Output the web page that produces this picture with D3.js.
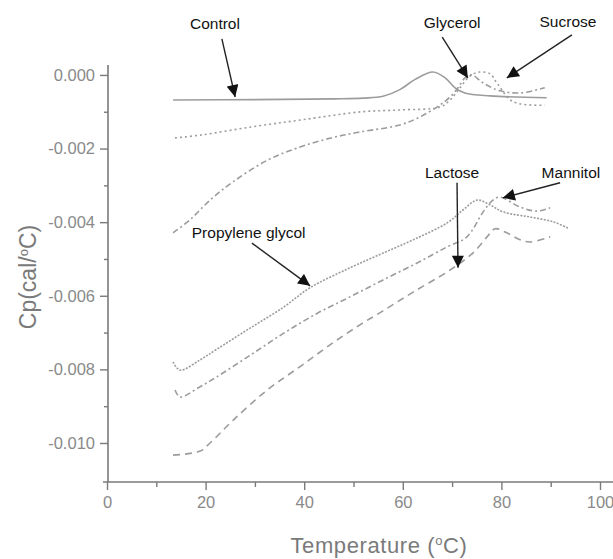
<!DOCTYPE html>
<html>
<head>
<meta charset="utf-8">
<script src="https://cdnjs.cloudflare.com/ajax/libs/d3/7.8.5/d3.min.js"></script>
<style>
  html, body { margin: 0; padding: 0; background: #fff; }
  svg { display: block; font-family: "Liberation Sans", Arial, sans-serif; }
</style>
</head>
<body>
<svg id="chart" width="613" height="559"></svg>
<script>
// temperature (°C) and Cp (cal/°C)
var controlT = [13.4, 30, 46.2, 52, 56, 59.4, 62.5, 66.1, 68.6, 70.6, 72.6, 77.7, 89.2];
var controlCp = [-0.00068, -0.00067, -0.00065, -0.00063, -0.00058, -0.00040, -0.00012, 0.00008, -0.00008, -0.00035, -0.00049, -0.00057, -0.00062];

var sucroseT = [13.8, 19.2, 29.4, 39.5, 51.7, 59.6, 67.6, 69.6, 71.6, 73.6, 75.6, 77.7, 79.1, 82.4, 88.8];
var sucroseCp = [-0.00171, -0.00163, -0.00141, -0.00122, -0.00100, -0.00095, -0.00087, -0.00068, -0.00035, -0.00003, 0.00008, 0.00003, -0.00022, -0.00073, -0.00082];

var glycerolT = [13.4, 16.8, 20.9, 25.6, 32.5, 39.1, 45.8, 51.3, 59.4, 63.5, 67.5, 69.6, 71.2, 72.6, 74.0, 76.3, 79.7, 83.8, 88.8];
var glycerolCp = [-0.00429, -0.00394, -0.00340, -0.00290, -0.00232, -0.00196, -0.00170, -0.00155, -0.00136, -0.00114, -0.00082, -0.00060, -0.00035, -0.00008, 0.00000, -0.00022, -0.00043, -0.00049, -0.00035];

var propyleneT = [13.4, 14.8, 18.9, 22.3, 29.0, 35.7, 41.2, 49.3, 56.0, 62.1, 69.0, 72.2, 75.1, 77.7, 80.3, 85.8, 90.5, 93.5];
var propyleneCp = [-0.00780, -0.00802, -0.00774, -0.00745, -0.00688, -0.00632, -0.00578, -0.00524, -0.00484, -0.00448, -0.00402, -0.00367, -0.00340, -0.00353, -0.00372, -0.00386, -0.00399, -0.00416];

var mannitolT = [13.8, 14.8, 18.9, 22.3, 29.0, 35.7, 42.6, 49.3, 56.0, 62.9, 69.0, 73.0, 76.3, 78.3, 79.7, 83.8, 87.2, 89.9];
var mannitolCp = [-0.00856, -0.00875, -0.00847, -0.00820, -0.00762, -0.00703, -0.00648, -0.00603, -0.00557, -0.00511, -0.00467, -0.00440, -0.00372, -0.00340, -0.00332, -0.00359, -0.00370, -0.00361];

var lactoseT = [13.4, 18.9, 20.9, 25.6, 32.5, 39.1, 45.8, 51.3, 56.0, 62.1, 69.6, 74.2, 77.1, 78.7, 81.1, 83.8, 85.8, 89.9];
var lactoseCp = [-0.01033, -0.01022, -0.01000, -0.00938, -0.00856, -0.00793, -0.00728, -0.00679, -0.00641, -0.00590, -0.00530, -0.00484, -0.00440, -0.00418, -0.00429, -0.00448, -0.00454, -0.00440];

var xTicks = [0, 20, 40, 60, 80, 100];
var yTicks = [0, -0.002, -0.004, -0.006, -0.008, -0.010];

// annotation labels and their arrows, in data units (T, Cp)
var labelNames = ["Control", "Glycerol", "Sucrose", "Propylene glycol", "Lactose", "Mannitol"];
var labelPos = [[21.9, 0.00139], [70.0, 0.00141], [93.5, 0.00144], [17.2, -0.00427], [70.0, -0.00266], [94.1, -0.00264]];
var arrowFrom = [[23.3, 0.00098], [68.0, 0.00103], [94.3, 0.00109], [29.4, -0.00457], [71.0, -0.00293], [91.9, -0.00293]];
var arrowTo = [[26.0, -0.00060], [73.2, -0.00008], [81.1, -0.00008], [41.2, -0.00573], [71.2, -0.00524], [80.3, -0.00334]];

var series = [
  { T: controlT, Cp: controlCp, dash: null },
  { T: sucroseT, Cp: sucroseCp, dash: "2,3" },
  { T: glycerolT, Cp: glycerolCp, dash: "6,3,2,3" },
  { T: propyleneT, Cp: propyleneCp, dash: "2,1.4" },
  { T: mannitolT, Cp: mannitolCp, dash: "6,3,2,3" },
  { T: lactoseT, Cp: lactoseCp, dash: "7,5" }
];

var svg = d3.select('#chart');

var x = d3.scaleLinear().domain([0, 100]).range([107, 600]);
var y = d3.scaleLinear().domain([-0.01106, 0.00027]).range([482, 65]);

var axisColor = "#7a7a7a";
var labelColor = "#8a8a8a";

// axis lines
svg.append('line')
  .attr('x1', 108).attr('x2', 108)
  .attr('y1', y.range()[1]).attr('y2', y.range()[0])
  .attr('stroke', axisColor).attr('stroke-width', 1.6);
svg.append('line')
  .attr('x1', 103).attr('x2', 613)
  .attr('y1', 482).attr('y2', 482)
  .attr('stroke', axisColor).attr('stroke-width', 1.6);

// x axis
var xMinor = svg.append('g').attr('transform', 'translate(0,482)')
  .call(d3.axisBottom(x).tickValues(d3.range(10, 100, 20)).tickSize(5).tickSizeOuter(0).tickFormat(''));
var xMajor = svg.append('g').attr('transform', 'translate(0,482)')
  .call(d3.axisBottom(x).tickValues(xTicks).tickSize(8).tickSizeOuter(0).tickPadding(6).tickFormat(d3.format('d')));

// y axis
var yMinor = svg.append('g').attr('transform', 'translate(108,0)')
  .call(d3.axisLeft(y).tickValues([-0.001, -0.003, -0.005, -0.007, -0.009]).tickSize(4).tickSizeOuter(0).tickFormat(''));
var yMajor = svg.append('g').attr('transform', 'translate(108,0)')
  .call(d3.axisLeft(y).tickValues(yTicks).tickSize(8).tickSizeOuter(0).tickPadding(5)
    .tickFormat(function(d) { return d3.format('.3f')(d).replace('−', '-'); }));

[xMinor, xMajor, yMinor, yMajor].forEach(function(g) {
  g.select('.domain').remove();
  g.selectAll('.tick line').attr('stroke', axisColor).attr('stroke-width', 1.4);
  g.selectAll('.tick text').attr('fill', labelColor).attr('font-size', 16.5)
    .attr('font-family', '"Liberation Sans", Arial, sans-serif');
});

// axis titles
var xt = svg.append('text')
  .attr('x', 379).attr('y', 553)
  .attr('text-anchor', 'middle')
  .attr('fill', axisColor).attr('font-size', 22)
  .attr('letter-spacing', 0.6);
xt.append('tspan').text('Temperature (');
xt.append('tspan').attr('font-size', 13).attr('dy', -8).text('o');
xt.append('tspan').attr('dy', 8).text('C)');

var yt = svg.append('text')
  .attr('transform', 'translate(36,277) rotate(-90)')
  .attr('text-anchor', 'middle')
  .attr('fill', axisColor).attr('font-size', 23);
yt.append('tspan').text('Cp(cal/');
yt.append('tspan').attr('font-size', 13).attr('dy', -8).text('o');
yt.append('tspan').attr('dy', 8).text('C)');

// curves
var line = d3.line()
  .x(function(d) { return x(d[0]); })
  .y(function(d) { return y(d[1]); })
  .curve(d3.curveCatmullRom.alpha(0.5));

svg.append('g').selectAll('path')
  .data(series)
  .enter()
    .append('path')
    .attr('d', function(s) { return line(d3.zip(s.T, s.Cp)); })
    .attr('fill', 'none')
    .attr('stroke', '#9c9c9c')
    .attr('stroke-width', 1.6)
    .attr('stroke-dasharray', function(s) { return s.dash; });

// annotation arrows
svg.append('defs').append('marker')
  .attr('id', 'head')
  .attr('viewBox', '0 0 10 10')
  .attr('refX', 10).attr('refY', 5)
  .attr('markerWidth', 13).attr('markerHeight', 12)
  .attr('markerUnits', 'userSpaceOnUse')
  .attr('orient', 'auto')
  .append('path')
    .attr('d', 'M0,0 L10,5 L0,10 Z')
    .attr('fill', '#111');

var ann = svg.append('g');

ann.selectAll('line')
  .data(d3.range(labelNames.length))
  .enter()
    .append('line')
    .attr('x1', function(i) { return x(arrowFrom[i][0]); })
    .attr('y1', function(i) { return y(arrowFrom[i][1]); })
    .attr('x2', function(i) { return x(arrowTo[i][0]); })
    .attr('y2', function(i) { return y(arrowTo[i][1]); })
    .attr('stroke', '#222')
    .attr('stroke-width', 1.4)
    .attr('marker-end', 'url(#head)');

ann.selectAll('text')
  .data(d3.range(labelNames.length))
  .enter()
    .append('text')
    .attr('x', function(i) { return x(labelPos[i][0]); })
    .attr('y', function(i) { return y(labelPos[i][1]); })
    .attr('dy', '0.35em')
    .attr('text-anchor', function(i) { return labelNames[i] === 'Propylene glycol' ? 'start' : 'middle'; })
    .attr('fill', '#111')
    .attr('font-size', 15.5)
    .text(function(i) { return labelNames[i]; });
</script>
</body>
</html>
